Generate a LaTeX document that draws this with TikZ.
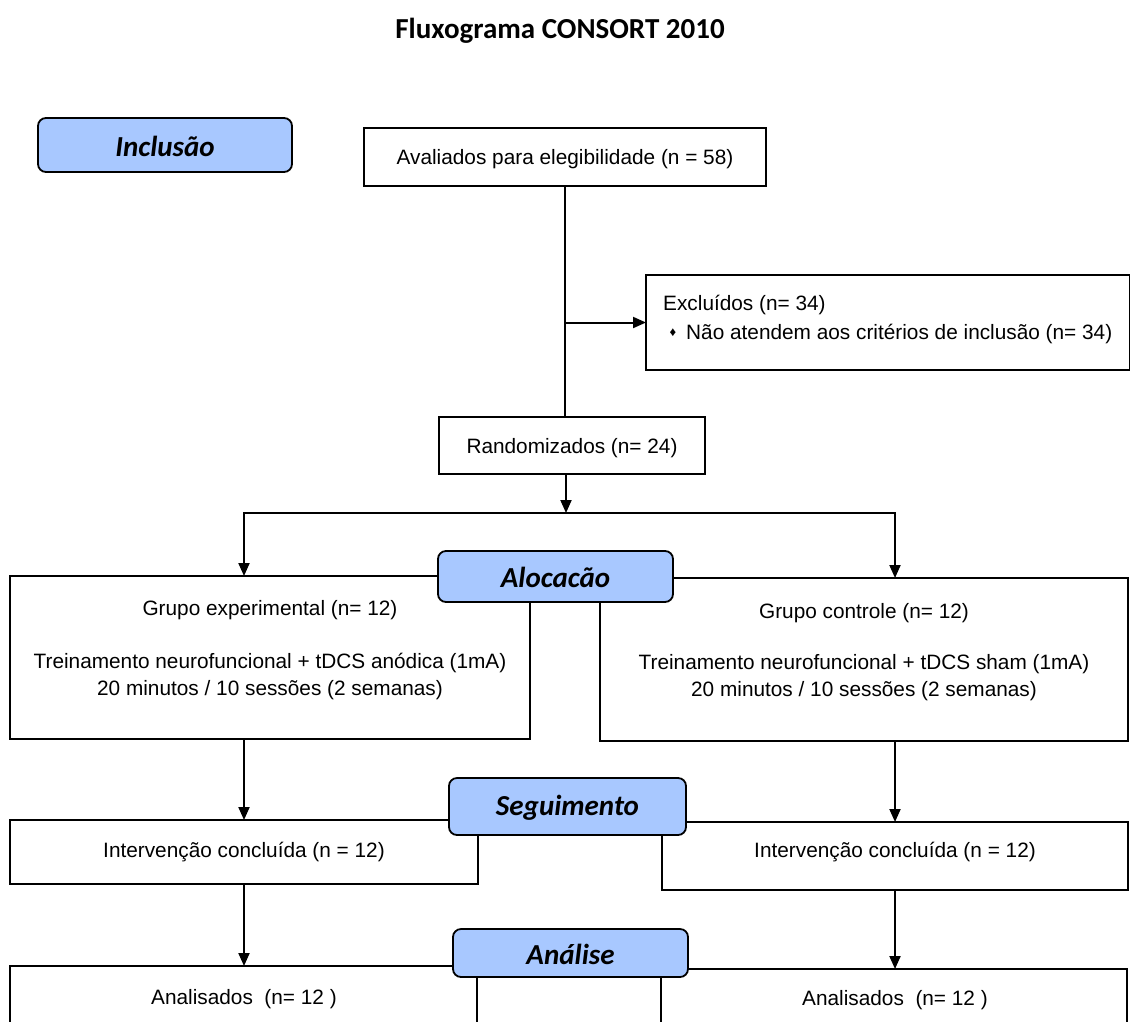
\documentclass[tikz,border=0pt]{standalone}
\usepackage{fontspec}
\setmainfont{Liberation Sans}
\newfontfamily\hdfont{Carlito}
\usetikzlibrary{arrows.meta,fit}
\definecolor{stageblue}{RGB}{168,200,255}
\begin{document}
\begin{tikzpicture}[x=1pt,y=-1pt,
  box/.style={draw=black,line width=1.4pt,fill=white,inner sep=0pt,outer sep=0pt},
  stage/.style={draw=black,line width=1.8pt,fill=stageblue,rounded corners=8pt,inner sep=0pt,outer sep=0pt},
  txt/.style={inner sep=0pt,yshift=-2pt,font=\fontsize{20.8}{25}\selectfont},
  stagetxt/.style={inner sep=0pt,yshift=-1pt,font=\hdfont\fontsize{29}{34}\selectfont\bfseries\itshape},
  conn/.style={line width=2pt},
  arr/.style={line width=2pt,-{Triangle[length=13pt,width=11pt]}}]
\clip (0,0) rectangle (1131,1021);
\fill[white] (0,0) rectangle (1131,1021);
% title
\node[inner sep=0pt,font=\hdfont\fontsize{29}{34}\selectfont\bfseries] (title) at (560,31) {Fluxograma CONSORT 2010};
% white boxes
\node[box,fit={(364,128)(766,186)}] (aval) {};
\node[box,fit={(646,275)(1129.5,370)}] (excl) {};
\node[box,fit={(439,417)(705,474)}] (rand) {};
\node[box,fit={(10,576)(530,739)}] (exp) {};
\node[box,fit={(600,578)(1128,741)}] (ctrl) {};
\node[box,fit={(10,820)(478,884)}] (intL) {};
\node[box,fit={(662,822)(1128,890)}] (intR) {};
\node[box,fit={(10,966)(477,1040)}] (anL) {};
\node[box,fit={(661,969)(1127,1040)}] (anR) {};
% texts
\node[txt] (avalT) at (565,157) {Avaliados para elegibilidade (n = 58)};
\node[txt,anchor=west] (exclT1) at (663,303) {Excluídos (n= 34)};
\node[inner sep=0pt] (bullet) at (673,333) {\fontsize{13}{13}\selectfont ♦};
\node[txt,anchor=west] (exclT2) at (686,332) {Não atendem aos critérios de inclusão (n= 34)};
\node[txt] (randT) at (572,446) {Randomizados (n= 24)};
\node[txt] (expT1) at (270,608) {Grupo experimental (n= 12)};
\node[txt] (expT2) at (270,661) {Treinamento neurofuncional + tDCS anódica (1mA)};
\node[txt] (expT3) at (270,688) {20 minutos / 10 sessões (2 semanas)};
\node[txt] (ctrlT1) at (864,611) {Grupo controle (n= 12)};
\node[txt] (ctrlT2) at (864,662) {Treinamento neurofuncional + tDCS sham (1mA)};
\node[txt] (ctrlT3) at (864,689) {20 minutos / 10 sessões (2 semanas)};
\node[txt] (intLT) at (244,850) {Intervenção concluída (n = 12)};
\node[txt] (intRT) at (895,850) {Intervenção concluída (n = 12)};
\node[txt] (anLT) at (244,997) {Analisados~ (n= 12 )};
\node[txt] (anRT) at (895,998) {Analisados~ (n= 12 )};
% connectors
\coordinate (sp) at (566,513);
\draw[conn] (aval.south) -- (aval.south |- rand.north);
\draw[arr] (aval.south |- excl.west) -- (excl.west);
\draw[arr] (sp |- rand.south) -- (sp);
\draw[arr] (sp) -| (intL.north |- exp.north);
\draw[arr] (sp) -| (intR.north |- ctrl.north);
\draw[arr] (intL.north |- exp.south) -- (intL.north);
\draw[arr] (intR.north |- ctrl.south) -- (intR.north);
\draw[arr] (intL.south) -- (intL.south |- anL.north);
\draw[arr] (intR.south) -- (intR.south |- anR.north);
% stage labels
\node[stage,fit={(38,118)(292,172)}] (incl) {};
\node[stagetxt] (inclT) at (incl.center) {Inclusão};
\node[stage,fit={(438,551)(673,602)}] (aloc) {};
\node[stagetxt] (alocT) at (aloc.center) {Alocacão};
\node[stage,fit={(449,778)(686,835)}] (seg) {};
\node[stagetxt] (segT) at (seg.center) {Seguimento};
\node[stage,fit={(453,929)(688,977)}] (anal) {};
\node[stagetxt] (analT) at (anal.center) {Análise};
\end{tikzpicture}
\end{document}
